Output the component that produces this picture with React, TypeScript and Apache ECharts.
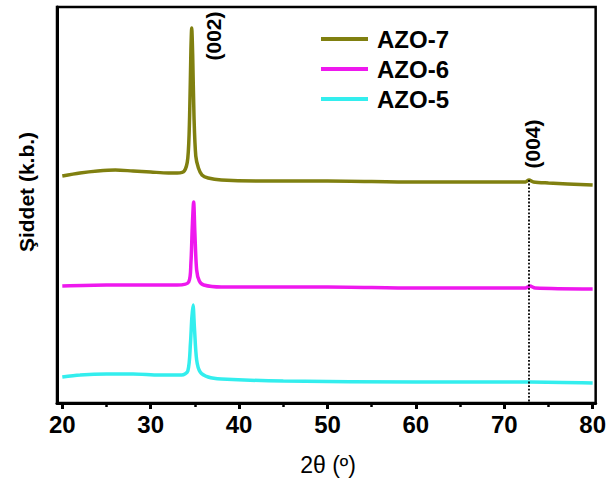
import React, { useEffect, useRef } from "react";
import * as echarts from "echarts";

// 2θ positions (degrees) and intensities (arbitrary units, offset per sample)
const azo7X = [20, 22, 24, 26, 28, 30, 32, 33, 33.8, 34.2, 34.4, 34.55, 34.64, 34.75, 34.9, 35.1, 35.4, 35.8, 36.5, 38, 42, 50, 60, 70, 72.4, 72.8, 73.3, 75, 80];
const azo7Y = [227, 230, 232, 233, 232, 231, 230, 230, 232, 245, 286, 353, 375, 348, 286, 247, 235, 228, 225, 223, 222, 222, 221, 221, 221, 223, 221, 220, 218];

const azo6X = [20, 25, 30, 33, 34.3, 34.55, 34.7, 34.86, 35.0, 35.2, 35.5, 36, 38, 50, 60, 72.4, 72.9, 73.5, 80];
const azo6Y = [117, 118, 118, 118, 121, 140, 175, 201, 170, 133, 122, 118, 116, 116, 115, 115, 117, 115, 114];

const azo5X = [20, 22, 25, 28, 31, 33.5, 34.2, 34.5, 34.65, 34.79, 34.95, 35.2, 35.6, 36.5, 38, 45, 60, 72.8, 80];
const azo5Y = [26, 28, 29, 29, 28, 28, 32, 60, 85, 98, 75, 43, 31, 26, 24, 22, 21, 21, 20];

const seriesNames = ["AZO-7", "AZO-6", "AZO-5"];
const seriesColors = ["#808010", "#EE18EE", "#33EEEE"];
const majorTicks = [20, 30, 40, 50, 60, 70, 80];
const minorTicks = [25, 35, 45, 55, 65, 75];
const peak004 = 72.8;

const zip = (xs: number[], ys: number[]) => xs.map((x, i) => [x, ys[i]]);

export default function App() {
  const ref = useRef<HTMLDivElement>(null);
  useEffect(() => {
    if (!ref.current) return;
    const chart = echarts.init(ref.current, undefined, { renderer: "svg" });
    const font = "'Liberation Sans', Arial, sans-serif";
    const data = [zip(azo7X, azo7Y), zip(azo6X, azo6Y), zip(azo5X, azo5Y)];
    chart.setOption({
      animation: false,
      backgroundColor: "#fff",
      grid: {
        left: 57,
        right: 11,
        top: 7,
        bottom: 79,
        show: true,
        borderColor: "#000",
        borderWidth: 2.5,
      },
      legend: {
        data: seriesNames,
        orient: "vertical",
        left: 316,
        top: 22,
        icon: "rect",
        itemWidth: 47,
        itemHeight: 4,
        itemGap: 6,
        textStyle: { fontFamily: font, fontWeight: "bold", fontSize: 24, color: "#000", padding: [0, 0, 0, 4] },
      },
      xAxis: [
        {
          type: "value",
          min: 19.4,
          max: 80.34,
          position: "bottom",
          splitLine: { show: false },
          axisLine: { show: true, lineStyle: { color: "#000", width: 3 } },
          axisTick: { show: true, customValues: majorTicks, length: 6, lineStyle: { color: "#000", width: 3 } },
          axisLabel: {
            customValues: majorTicks,
            margin: 9,
            fontFamily: font,
            fontWeight: "bold",
            fontSize: 24,
            color: "#000",
          },
        },
        {
          type: "value",
          min: 19.4,
          max: 80.34,
          position: "bottom",
          splitLine: { show: false },
          axisLine: { show: false },
          axisTick: { show: true, customValues: minorTicks, length: 4, lineStyle: { color: "#000", width: 2.5 } },
          axisLabel: { show: false },
        },
      ],
      yAxis: {
        type: "value",
        min: 0,
        max: 396,
        splitLine: { show: false },
        axisLine: { show: true, lineStyle: { color: "#000", width: 3 } },
        axisTick: { show: false },
        axisLabel: { show: false },
      },
      series: seriesNames.map((name, i) => ({
        name,
        type: "line",
        data: data[i],
        symbol: "none",
        smooth: 0.3,
        color: seriesColors[i],
        lineStyle: { width: 3.5, color: seriesColors[i] },
        z: 3 - i,
        markLine:
          i === 0
            ? {
                silent: true,
                symbol: "none",
                label: { show: false },
                lineStyle: { type: "dotted", color: "#000", width: 1.8 },
                data: [[{ coord: [peak004, 223] }, { coord: [peak004, 0] }]],
              }
            : undefined,
      })),
      graphic: [
        {
          type: "text",
          x: 213,
          y: 36,
          rotation: Math.PI / 2,
          style: { text: "(002)", font: `bold 21px ${font}`, fill: "#000", align: "center", verticalAlign: "middle" },
        },
        {
          type: "text",
          x: 532,
          y: 144,
          rotation: Math.PI / 2,
          style: { text: "(004)", font: `bold 21px ${font}`, fill: "#000", align: "center", verticalAlign: "middle" },
        },
        {
          type: "text",
          x: 26,
          y: 192,
          rotation: Math.PI / 2,
          style: { text: "Şiddet (k.b.)", font: `bold 21px ${font}`, fill: "#000", align: "center", verticalAlign: "middle" },
        },
        {
          type: "text",
          x: 328,
          y: 465,
          style: { text: "2θ (º)", font: `23px ${font}`, fill: "#000", align: "center", verticalAlign: "middle" },
        },
      ],
    });
    return () => chart.dispose();
  }, []);
  return <div ref={ref} style={{ width: 609, height: 482, position: "absolute", left: 0, top: 0 }} />;
}
